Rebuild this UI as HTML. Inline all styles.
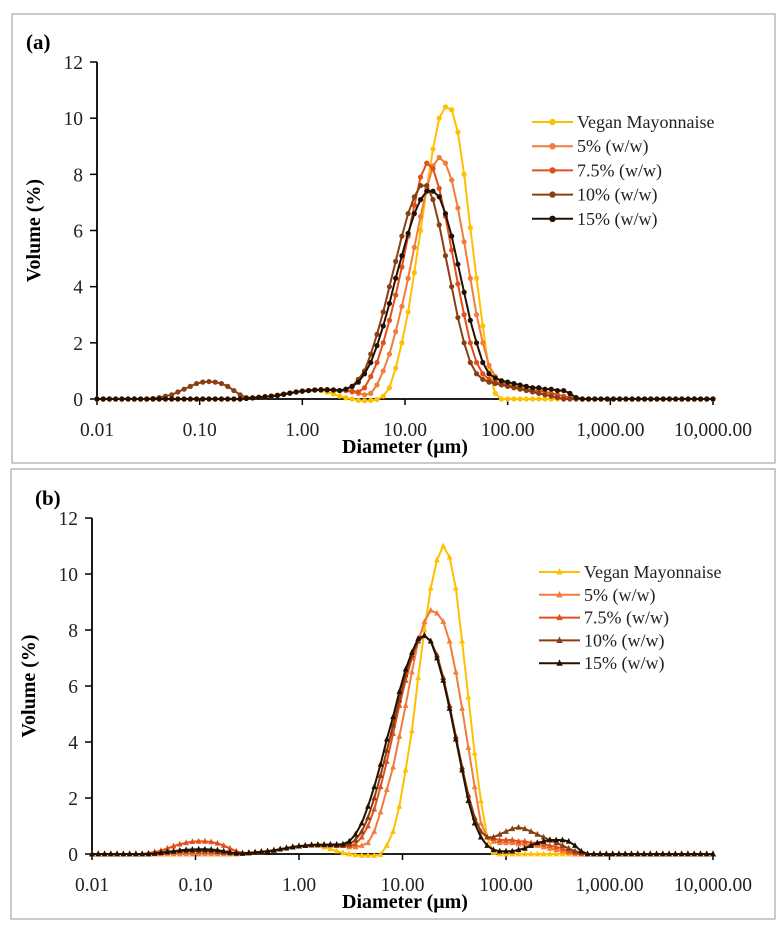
<!DOCTYPE html>
<html><head><meta charset="utf-8"><style>
body{margin:0;background:#fff;}
svg{display:block;font-family:"Liberation Serif",serif;}
</style></head><body>
<svg id="chart" width="781" height="930" viewBox="0 0 781 930" xmlns="http://www.w3.org/2000/svg">
<rect x="12" y="14" width="763" height="449" fill="none" stroke="#a6a6a6" stroke-width="1.2"/>
<rect x="11" y="469" width="764" height="450" fill="none" stroke="#a6a6a6" stroke-width="1.2"/>
<text x="26" y="49" font-size="21" font-weight="bold">(a)</text>
<text x="35" y="505" font-size="21" font-weight="bold">(b)</text>
<g id="pa"></g>
<g id="pb"></g>
</svg>
<script>
const seriesNames = ["Vegan Mayonnaise","5% (w/w)","7.5% (w/w)","10% (w/w)","15% (w/w)"];
const seriesColors = ["#ffc000","#f07d3c","#e0501a","#8a3f12","#241000"];
const xTickLabels = ["0.01","0.10","1.00","10.00","100.00","1,000.00","10,000.00"];
const xTickValues = [0.01,0.1,1,10,100,1000,10000];
const yTickValues = [0,2,4,6,8,10,12];
const binCount = 100;

const vegA = [0,0,0,0,0,0,0,0,0,0, 0,0,0,0,0,0,0,0,0,0,
0,0,0,0,0.02,0.04,0.06,0.08,0.1,0.13, 0.17,0.21,0.25,0.28,0.3,0.32,0.3,0.25,0.18,0.1,
0.04,0,-0.05,-0.06,-0.05,-0.02,0.1,0.4,1.1,2.0, 3.1,4.5,6.0,7.5,8.9,10.0,10.4,10.3,9.5,8.0,
6.1,4.3,2.6,1.0,0.2,0,0,0,0,0, 0,0,0,0,0,0,0,0,0,0,
0,0,0,0,0,0,0,0,0,0, 0,0,0,0,0,0,0,0,0,0];
const fiveA = [0,0,0,0,0,0,0,0,0,0, 0,0,0,0,0,0,0,0,0,0,
0,0,0,0,0.02,0.04,0.06,0.08,0.1,0.13, 0.17,0.21,0.25,0.28,0.3,0.32,0.33,0.33,0.32,0.3,
0.3,0.25,0.2,0.15,0.2,0.5,1.0,1.6,2.4,3.3, 4.3,5.4,6.5,7.5,8.3,8.6,8.4,7.8,6.8,5.6,
4.3,3.0,2.0,1.2,0.8,0.6,0.5,0.45,0.4,0.35, 0.3,0.3,0.25,0.2,0.15,0.1,0.05,0,0,0,
0,0,0,0,0,0,0,0,0,0, 0,0,0,0,0,0,0,0,0,0];
const sevenA = [0,0,0,0,0,0,0,0,0,0, 0,0,0,0,0,0,0,0,0,0,
0,0,0,0,0.02,0.04,0.06,0.08,0.1,0.13, 0.17,0.21,0.25,0.28,0.3,0.32,0.33,0.33,0.32,0.3,
0.3,0.28,0.25,0.4,0.8,1.3,2.0,2.8,3.7,4.7, 5.8,6.9,7.9,8.4,8.2,7.5,6.5,5.3,4.1,3.0,
2.0,1.3,0.9,0.7,0.6,0.55,0.5,0.45,0.4,0.35, 0.3,0.3,0.25,0.2,0.15,0.1,0.05,0,0,0,
0,0,0,0,0,0,0,0,0,0, 0,0,0,0,0,0,0,0,0,0];
const tenA = [0,0,0,0,0,0,0,0,0,0.02, 0.05,0.1,0.15,0.25,0.35,0.45,0.55,0.6,0.62,0.6,
0.55,0.45,0.3,0.15,0.05,0.04,0.06,0.08,0.1,0.13, 0.17,0.21,0.25,0.28,0.3,0.32,0.33,0.33,0.32,0.3,
0.35,0.45,0.7,1.0,1.6,2.3,3.1,4.0,4.9,5.8, 6.6,7.2,7.6,7.6,7.1,6.2,5.1,4.0,2.9,2.0,
1.3,0.9,0.7,0.6,0.55,0.5,0.45,0.4,0.35,0.3, 0.25,0.2,0.15,0.1,0.05,0,0,0,0,0,
0,0,0,0,0,0,0,0,0,0, 0,0,0,0,0,0,0,0,0,0];
const fifteenA = [0,0,0,0,0,0,0,0,0,0, 0,0,0,0,0,0,0,0,0,0,
0,0,0,0,0.02,0.04,0.06,0.08,0.1,0.13, 0.17,0.21,0.25,0.28,0.3,0.32,0.33,0.33,0.32,0.3,
0.35,0.45,0.6,0.9,1.3,1.9,2.6,3.4,4.3,5.1, 5.9,6.6,7.1,7.4,7.4,7.2,6.6,5.8,4.8,3.8,
2.8,2.0,1.3,0.9,0.75,0.65,0.6,0.55,0.5,0.45, 0.4,0.4,0.35,0.35,0.3,0.3,0.2,0.05,0,0,
0,0,0,0,0,0,0,0,0,0, 0,0,0,0,0,0,0,0,0,0];

const vegB = [0,0,0,0,0,0,0,0,0,0, 0,0,0,0,0,0,0,0,0,0,
0,0,0,0,0.02,0.04,0.06,0.08,0.1,0.13, 0.17,0.21,0.25,0.28,0.3,0.32,0.3,0.25,0.18,0.1,
0.04,0,-0.03,-0.05,-0.05,-0.05,-0.02,0.3,0.8,1.7, 3.0,4.4,6.3,8.0,9.5,10.5,11.0,10.6,9.5,7.6,
5.6,3.6,1.9,0.6,0.05,0,0,0,0,0, 0,0,0,0,0,0,0,0,0,0,
0,0,0,0,0,0,0,0,0,0, 0,0,0,0,0,0,0,0,0,0];
const fiveB = [0,0,0,0,0,0,0,0,0,0, 0,0,0,0,0,0,0,0,0,0,
0,0,0,0,0.02,0.04,0.06,0.08,0.1,0.13, 0.17,0.21,0.25,0.28,0.3,0.32,0.33,0.33,0.32,0.3,
0.3,0.25,0.25,0.3,0.4,0.8,1.5,2.3,3.1,4.2, 5.3,6.5,7.6,8.3,8.7,8.6,8.3,7.6,6.5,5.2,
3.8,2.4,1.1,0.6,0.45,0.4,0.4,0.4,0.35,0.35, 0.3,0.3,0.25,0.2,0.15,0.1,0.05,0,0,0,
0,0,0,0,0,0,0,0,0,0, 0,0,0,0,0,0,0,0,0,0];
const sevenB = [0,0,0,0,0,0,0,0,0,0.03, 0.07,0.12,0.2,0.28,0.35,0.4,0.44,0.45,0.45,0.43,
0.38,0.3,0.2,0.1,0.04,0.04,0.06,0.08,0.1,0.13, 0.17,0.21,0.25,0.28,0.3,0.32,0.33,0.33,0.32,0.3,
0.3,0.3,0.35,0.6,1.0,1.6,2.4,3.3,4.3,5.3, 6.2,7.0,7.6,7.8,7.6,7.1,6.3,5.3,4.2,3.1,
2.1,1.3,0.8,0.6,0.55,0.5,0.5,0.5,0.45,0.45, 0.4,0.4,0.35,0.3,0.25,0.2,0.1,0.05,0,0,
0,0,0,0,0,0,0,0,0,0, 0,0,0,0,0,0,0,0,0,0];
const tenB = [0,0,0,0,0,0,0,0,0,0, 0.02,0.04,0.06,0.08,0.1,0.1,0.1,0.1,0.1,0.1,
0.08,0.06,0.04,0.02,0.02,0.04,0.06,0.08,0.1,0.13, 0.17,0.21,0.25,0.28,0.3,0.32,0.33,0.33,0.32,0.3,
0.3,0.35,0.5,0.8,1.3,2.0,2.8,3.7,4.6,5.5, 6.4,7.1,7.6,7.8,7.6,7.1,6.3,5.3,4.2,3.1,
2.1,1.3,0.8,0.6,0.6,0.7,0.8,0.9,0.95,0.9, 0.8,0.7,0.6,0.5,0.4,0.3,0.2,0.1,0.05,0,
0,0,0,0,0,0,0,0,0,0, 0,0,0,0,0,0,0,0,0,0];
const fifteenB = [0,0,0,0,0,0,0,0,0,0, 0.02,0.05,0.08,0.1,0.13,0.15,0.16,0.17,0.17,0.16,
0.14,0.1,0.06,0.03,0.02,0.04,0.06,0.08,0.1,0.13, 0.17,0.21,0.25,0.28,0.3,0.32,0.33,0.33,0.34,0.34,
0.35,0.45,0.7,1.1,1.7,2.4,3.2,4.1,4.9,5.8, 6.6,7.2,7.7,7.8,7.6,7.0,6.2,5.2,4.1,3.0,
1.9,1.1,0.6,0.3,0.15,0.1,0.1,0.1,0.15,0.2, 0.3,0.4,0.45,0.5,0.5,0.5,0.45,0.3,0.1,0,
0,0,0,0,0,0,0,0,0,0, 0,0,0,0,0,0,0,0,0,0];

const panelASeries = [vegA, fiveA, sevenA, tenA, fifteenA];
const panelBSeries = [vegB, fiveB, sevenB, tenB, fifteenB];

const NS = "http://www.w3.org/2000/svg";
function mk(tag, attrs, parent){
  const el = document.createElementNS(NS, tag);
  for (const k in attrs) el.setAttribute(k, attrs[k]);
  parent.appendChild(el);
  return el;
}
function diam(i){ return 0.01 * Math.pow(10, 6 * i / (binCount - 1)); }

function drawPanel(g, cfg, seriesData){
  const xs = d => cfg.x0 + (Math.log10(d) + 2) / 6 * (cfg.x1 - cfg.x0);
  const ys = v => cfg.yb + (cfg.yt - cfg.yb) * v / 12;
  const ya = mk("line", {x1:cfg.x0, y1:ys(0), x2:cfg.x0, y2:ys(12), stroke:"#000", "stroke-width":1.8}, g);
  
  
  const xa = mk("line", {x1:cfg.x0, y1:ys(0), x2:cfg.x1, y2:ys(0), stroke:"#000", "stroke-width":1.8}, g);
  
  
  yTickValues.forEach(v => {
    mk("line", {x1:cfg.x0 - 7, y1:ys(v), x2:cfg.x0, y2:ys(v), stroke:"#000", "stroke-width":1.5}, g);
    const t = mk("text", {x:cfg.x0 - 14, y:ys(v) + 7, "text-anchor":"end", "font-size":19.5, fill:"#222"}, g);
    t.textContent = v;
    
    
  });
  xTickValues.forEach((v, k) => {
    mk("line", {x1:xs(v), y1:ys(0), x2:xs(v), y2:ys(0) + 6, stroke:"#000", "stroke-width":1.5}, g);
    const t = mk("text", {x:xs(v), y:ys(0) + 37, "text-anchor":"middle", "font-size":19.5, fill:"#222"}, g);
    t.textContent = xTickLabels[k];
    
    
  });
  const yt = mk("text", {x:0, y:0, transform:`translate(${cfg.ytx},${(ys(0)+ys(12))/2}) rotate(-90)`, "text-anchor":"middle", "font-size":20, "font-weight":"bold"}, g);
  yt.textContent = "Volume (%)";
  
  
  const xt = mk("text", {x:405, y:ys(0) + 54, "text-anchor":"middle", "font-size":20, "font-weight":"bold"}, g);
  xt.textContent = "Diameter (\u03bcm)";
  
  

  function marker(parent, x, y, col, r){
    if (cfg.tri) {
      mk("polygon", {points:`${x},${y-r*1.2} ${x-r},${y+r*0.8} ${x+r},${y+r*0.8}`, fill:col}, parent);
    } else {
      mk("circle", {cx:x, cy:y, r:r, fill:col}, parent);
    }
  }
  seriesData.forEach((arr, s) => {
    const sg = mk("g", {}, g);
    
    
    const pts = arr.map((v, i) => `${xs(diam(i)).toFixed(2)},${ys(v).toFixed(2)}`).join(" ");
    mk("polyline", {points:pts, fill:"none", stroke:seriesColors[s], "stroke-width":2}, sg);
    arr.forEach((v, i) => marker(sg, xs(diam(i)), ys(v), seriesColors[s], cfg.tri ? 2.9 : 2.6));
  });
  seriesNames.forEach((n, s) => {
    const lg = mk("g", {}, g);
    
    
    const y = cfg.ly + s * cfg.lstep;
    mk("line", {x1:cfg.lx, y1:y, x2:cfg.lx + 41, y2:y, stroke:seriesColors[s], "stroke-width":2}, lg);
    marker(lg, cfg.lx + 20.5, y, seriesColors[s], 3.2);
    const t = mk("text", {x:cfg.lx + 45, y:y + 6, "font-size":18, fill:"#222"}, lg);
    t.textContent = n;
  });
}
drawPanel(document.getElementById("pa"), {x0:97, x1:713, yb:399, yt:62, ytx:40, tri:false, lx:532, ly:122, lstep:24.2}, panelASeries);
drawPanel(document.getElementById("pb"), {x0:92, x1:713, yb:854, yt:518, ytx:35, tri:true, lx:539, ly:572, lstep:22.8}, panelBSeries);
</script>
</body></html>
